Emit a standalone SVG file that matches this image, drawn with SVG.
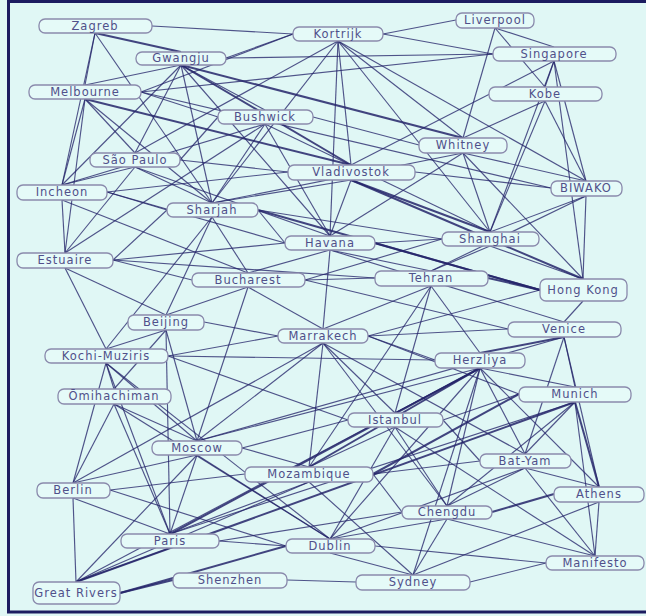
<svg xmlns="http://www.w3.org/2000/svg" width="646" height="616" viewBox="0 0 646 616">
<style>
.e line{stroke:#25256a;stroke-opacity:.78;stroke-width:1.15;}
.e line.t{stroke-width:2;stroke-opacity:.85;}
.n rect{fill:#e5faf8;stroke:#8a8aac;stroke-width:1.3;}
.n text{font-family:"DejaVu Sans",sans-serif;font-size:11.5px;letter-spacing:1px;fill:#50508a;text-anchor:middle;}
</style>
<rect x="0" y="0" width="646" height="616" fill="#e0f7f5"/>
<g class="e" id="connectors">
<line x1="152" y1="26" x2="293" y2="34"/>
<line class="t" x1="95" y1="33" x2="181" y2="52"/>
<line x1="95" y1="33" x2="85" y2="85"/>
<line x1="95" y1="33" x2="62" y2="185"/>
<line x1="95" y1="33" x2="212" y2="203"/>
<line x1="226" y1="58" x2="293" y2="34"/>
<line x1="226" y1="58" x2="493" y2="54"/>
<line x1="181" y1="65" x2="85" y2="85"/>
<line x1="181" y1="65" x2="135" y2="153"/>
<line x1="181" y1="65" x2="62" y2="185"/>
<line x1="181" y1="65" x2="212" y2="203"/>
<line class="t" x1="181" y1="65" x2="351" y2="165"/>
<line class="t" x1="181" y1="65" x2="463" y2="138"/>
<line x1="181" y1="65" x2="265" y2="110"/>
<line x1="181" y1="65" x2="330" y2="236"/>
<line x1="383" y1="34" x2="456" y2="20"/>
<line x1="383" y1="34" x2="493" y2="54"/>
<line x1="338" y1="41" x2="463" y2="138"/>
<line x1="338" y1="41" x2="586" y2="181"/>
<line x1="338" y1="41" x2="351" y2="165"/>
<line x1="338" y1="41" x2="330" y2="236"/>
<line x1="338" y1="41" x2="135" y2="153"/>
<line x1="338" y1="41" x2="212" y2="203"/>
<line x1="338" y1="41" x2="490" y2="232"/>
<line x1="293" y1="34" x2="141" y2="92"/>
<line x1="495" y1="28" x2="463" y2="138"/>
<line x1="495" y1="28" x2="554" y2="47"/>
<line x1="495" y1="28" x2="545" y2="87"/>
<line x1="554" y1="61" x2="545" y2="87"/>
<line x1="554" y1="61" x2="586" y2="181"/>
<line x1="554" y1="61" x2="583" y2="279"/>
<line x1="493" y1="54" x2="141" y2="92"/>
<line x1="554" y1="61" x2="351" y2="165"/>
<line x1="554" y1="61" x2="490" y2="232"/>
<line x1="545" y1="101" x2="463" y2="138"/>
<line x1="545" y1="101" x2="586" y2="181"/>
<line x1="545" y1="101" x2="490" y2="232"/>
<line class="t" x1="85" y1="99" x2="351" y2="165"/>
<line x1="141" y1="92" x2="218" y2="117"/>
<line x1="85" y1="99" x2="135" y2="153"/>
<line x1="85" y1="99" x2="62" y2="185"/>
<line x1="85" y1="99" x2="212" y2="203"/>
<line x1="141" y1="92" x2="551" y2="188"/>
<line x1="85" y1="99" x2="65" y2="253"/>
<line x1="218" y1="117" x2="180" y2="160"/>
<line x1="265" y1="124" x2="212" y2="203"/>
<line x1="265" y1="124" x2="330" y2="236"/>
<line x1="313" y1="117" x2="419" y2="145"/>
<line x1="265" y1="124" x2="490" y2="232"/>
<line x1="265" y1="124" x2="62" y2="185"/>
<line x1="265" y1="124" x2="65" y2="253"/>
<line x1="463" y1="153" x2="586" y2="181"/>
<line x1="463" y1="153" x2="490" y2="232"/>
<line x1="463" y1="153" x2="583" y2="279"/>
<line x1="463" y1="153" x2="212" y2="203"/>
<line x1="463" y1="153" x2="330" y2="236"/>
<line x1="180" y1="160" x2="288" y2="172"/>
<line x1="135" y1="167" x2="62" y2="185"/>
<line x1="135" y1="167" x2="212" y2="203"/>
<line x1="135" y1="167" x2="330" y2="236"/>
<line x1="135" y1="167" x2="65" y2="253"/>
<line x1="415" y1="172" x2="551" y2="188"/>
<line x1="351" y1="180" x2="330" y2="236"/>
<line class="t" x1="351" y1="180" x2="490" y2="232"/>
<line class="t" x1="351" y1="180" x2="583" y2="279"/>
<line x1="351" y1="180" x2="212" y2="203"/>
<line x1="288" y1="172" x2="107" y2="192"/>
<line x1="586" y1="196" x2="490" y2="232"/>
<line x1="586" y1="196" x2="583" y2="279"/>
<line x1="586" y1="196" x2="431" y2="271"/>
<line x1="107" y1="192" x2="167" y2="210"/>
<line x1="62" y1="200" x2="65" y2="253"/>
<line x1="107" y1="192" x2="285" y2="243"/>
<line x1="62" y1="200" x2="248" y2="273"/>
<line x1="258" y1="210" x2="285" y2="243"/>
<line x1="212" y1="217" x2="248" y2="273"/>
<line x1="167" y1="210" x2="113" y2="260"/>
<line class="t" x1="258" y1="210" x2="540" y2="290"/>
<line x1="212" y1="217" x2="166" y2="315"/>
<line x1="212" y1="217" x2="106" y2="349"/>
<line x1="258" y1="210" x2="442" y2="239"/>
<line class="t" x1="375" y1="243" x2="540" y2="290"/>
<line x1="375" y1="243" x2="442" y2="239"/>
<line x1="285" y1="243" x2="113" y2="260"/>
<line x1="330" y1="250" x2="248" y2="273"/>
<line x1="330" y1="250" x2="323" y2="329"/>
<line x1="330" y1="250" x2="431" y2="271"/>
<line x1="330" y1="250" x2="564" y2="322"/>
<line x1="490" y1="246" x2="583" y2="279"/>
<line x1="490" y1="246" x2="431" y2="271"/>
<line x1="442" y1="239" x2="305" y2="280"/>
<line x1="113" y1="260" x2="192" y2="280"/>
<line x1="65" y1="268" x2="166" y2="315"/>
<line x1="65" y1="268" x2="106" y2="349"/>
<line x1="113" y1="260" x2="375" y2="278"/>
<line x1="305" y1="280" x2="375" y2="278"/>
<line x1="248" y1="287" x2="323" y2="329"/>
<line x1="248" y1="287" x2="197" y2="441"/>
<line x1="248" y1="287" x2="166" y2="315"/>
<line x1="305" y1="280" x2="508" y2="329"/>
<line class="t" x1="488" y1="278" x2="540" y2="290"/>
<line x1="431" y1="286" x2="480" y2="353"/>
<line x1="431" y1="286" x2="323" y2="329"/>
<line x1="431" y1="286" x2="395" y2="413"/>
<line x1="431" y1="286" x2="309" y2="467"/>
<line x1="583" y1="301" x2="564" y2="322"/>
<line x1="540" y1="290" x2="368" y2="336"/>
<line x1="204" y1="322" x2="278" y2="336"/>
<line x1="166" y1="330" x2="106" y2="349"/>
<line x1="166" y1="330" x2="114" y2="389"/>
<line x1="166" y1="330" x2="197" y2="441"/>
<line x1="166" y1="330" x2="170" y2="534"/>
<line class="t" x1="564" y1="337" x2="480" y2="353"/>
<line x1="564" y1="337" x2="575" y2="387"/>
<line x1="564" y1="337" x2="599" y2="487"/>
<line x1="508" y1="329" x2="368" y2="336"/>
<line x1="564" y1="337" x2="525" y2="454"/>
<line x1="564" y1="337" x2="197" y2="441"/>
<line x1="278" y1="336" x2="168" y2="356"/>
<line x1="368" y1="336" x2="435" y2="360"/>
<line x1="323" y1="343" x2="395" y2="413"/>
<line x1="323" y1="343" x2="197" y2="441"/>
<line x1="323" y1="343" x2="309" y2="467"/>
<line x1="323" y1="343" x2="525" y2="454"/>
<line x1="323" y1="343" x2="447" y2="506"/>
<line x1="323" y1="343" x2="73" y2="483"/>
<line x1="368" y1="336" x2="519" y2="394"/>
<line x1="106" y1="363" x2="114" y2="389"/>
<line x1="168" y1="356" x2="435" y2="360"/>
<line x1="106" y1="363" x2="73" y2="483"/>
<line x1="106" y1="363" x2="197" y2="441"/>
<line x1="106" y1="363" x2="170" y2="534"/>
<line x1="168" y1="356" x2="348" y2="420"/>
<line x1="106" y1="363" x2="330" y2="539"/>
<line x1="480" y1="368" x2="575" y2="387"/>
<line x1="480" y1="368" x2="395" y2="413"/>
<line x1="480" y1="368" x2="197" y2="441"/>
<line class="t" x1="480" y1="368" x2="309" y2="467"/>
<line x1="480" y1="368" x2="525" y2="454"/>
<line x1="480" y1="368" x2="447" y2="506"/>
<line x1="480" y1="368" x2="599" y2="487"/>
<line x1="480" y1="368" x2="330" y2="539"/>
<line x1="480" y1="368" x2="413" y2="575"/>
<line x1="114" y1="404" x2="197" y2="441"/>
<line x1="114" y1="404" x2="73" y2="483"/>
<line x1="114" y1="404" x2="170" y2="534"/>
<line x1="114" y1="404" x2="330" y2="539"/>
<line class="t" x1="575" y1="402" x2="599" y2="487"/>
<line x1="575" y1="402" x2="525" y2="454"/>
<line x1="575" y1="402" x2="595" y2="556"/>
<line class="t" x1="519" y1="394" x2="373" y2="474"/>
<line x1="519" y1="394" x2="443" y2="420"/>
<line x1="575" y1="402" x2="447" y2="506"/>
<line x1="575" y1="402" x2="170" y2="534"/>
<line x1="348" y1="420" x2="242" y2="448"/>
<line x1="395" y1="427" x2="309" y2="467"/>
<line x1="443" y1="420" x2="480" y2="461"/>
<line x1="395" y1="427" x2="447" y2="506"/>
<line x1="395" y1="427" x2="595" y2="556"/>
<line x1="395" y1="427" x2="330" y2="539"/>
<line x1="197" y1="455" x2="73" y2="483"/>
<line x1="242" y1="448" x2="309" y2="467"/>
<line x1="197" y1="455" x2="170" y2="534"/>
<line x1="197" y1="455" x2="330" y2="539"/>
<line x1="197" y1="455" x2="76" y2="582"/>
<line x1="245" y1="474" x2="110" y2="490"/>
<line x1="373" y1="474" x2="402" y2="512"/>
<line x1="373" y1="474" x2="480" y2="461"/>
<line x1="309" y1="482" x2="170" y2="534"/>
<line x1="309" y1="482" x2="76" y2="582"/>
<line x1="309" y1="482" x2="413" y2="575"/>
<line x1="525" y1="468" x2="599" y2="487"/>
<line x1="525" y1="468" x2="447" y2="506"/>
<line x1="525" y1="468" x2="595" y2="556"/>
<line x1="525" y1="468" x2="330" y2="539"/>
<line class="t" x1="76" y1="582" x2="575" y2="402"/>
<line x1="73" y1="498" x2="170" y2="534"/>
<line x1="73" y1="498" x2="76" y2="582"/>
<line x1="110" y1="490" x2="286" y2="546"/>
<line class="t" x1="554" y1="494" x2="492" y2="512"/>
<line x1="599" y1="502" x2="595" y2="556"/>
<line x1="599" y1="502" x2="413" y2="575"/>
<line x1="447" y1="519" x2="330" y2="539"/>
<line x1="447" y1="519" x2="413" y2="575"/>
<line x1="447" y1="519" x2="595" y2="556"/>
<line x1="402" y1="512" x2="219" y2="541"/>
<line x1="219" y1="541" x2="286" y2="546"/>
<line x1="170" y1="548" x2="76" y2="582"/>
<line class="t" x1="170" y1="534" x2="480" y2="368"/>
<line class="t" x1="286" y1="546" x2="120" y2="593"/>
<line x1="330" y1="553" x2="413" y2="575"/>
<line x1="375" y1="546" x2="546" y2="563"/>
<line class="t" x1="120" y1="593" x2="173" y2="580"/>
<line x1="76" y1="582" x2="480" y2="368"/>
<line x1="287" y1="580" x2="356" y2="582"/>
<line x1="470" y1="582" x2="546" y2="563"/>
</g>
<g class="n" id="n-zagreb"><rect x="39" y="19" width="113" height="14" rx="6"/><text x="95" y="30">Zagreb</text></g>
<g class="n" id="n-kortrijk"><rect x="293" y="27" width="90" height="14" rx="6"/><text x="338" y="38">Kortrijk</text></g>
<g class="n" id="n-liverpool"><rect x="456" y="13" width="78" height="15" rx="6"/><text x="495" y="24">Liverpool</text></g>
<g class="n" id="n-gwangju"><rect x="136" y="52" width="90" height="13" rx="6"/><text x="181" y="62">Gwangju</text></g>
<g class="n" id="n-singapore"><rect x="493" y="47" width="123" height="14" rx="6"/><text x="554" y="58">Singapore</text></g>
<g class="n" id="n-melbourne"><rect x="29" y="85" width="112" height="14" rx="6"/><text x="85" y="96">Melbourne</text></g>
<g class="n" id="n-kobe"><rect x="489" y="87" width="113" height="14" rx="6"/><text x="545" y="98">Kobe</text></g>
<g class="n" id="n-bushwick"><rect x="218" y="110" width="95" height="14" rx="6"/><text x="265" y="121">Bushwick</text></g>
<g class="n" id="n-whitney"><rect x="419" y="138" width="88" height="15" rx="6"/><text x="463" y="149">Whitney</text></g>
<g class="n" id="n-saopaulo"><rect x="90" y="153" width="90" height="14" rx="6"/><text x="135" y="164">São Paulo</text></g>
<g class="n" id="n-vladivostok"><rect x="288" y="165" width="127" height="15" rx="6"/><text x="351" y="176">Vladivostok</text></g>
<g class="n" id="n-biwako"><rect x="551" y="181" width="71" height="15" rx="6"/><text x="586" y="192">BIWAKO</text></g>
<g class="n" id="n-incheon"><rect x="17" y="185" width="90" height="15" rx="6"/><text x="62" y="196">Incheon</text></g>
<g class="n" id="n-sharjah"><rect x="167" y="203" width="91" height="14" rx="6"/><text x="212" y="214">Sharjah</text></g>
<g class="n" id="n-havana"><rect x="285" y="236" width="90" height="14" rx="6"/><text x="330" y="247">Havana</text></g>
<g class="n" id="n-shanghai"><rect x="442" y="232" width="97" height="14" rx="6"/><text x="490" y="243">Shanghai</text></g>
<g class="n" id="n-estuaire"><rect x="17" y="253" width="96" height="15" rx="6"/><text x="65" y="264">Estuaire</text></g>
<g class="n" id="n-bucharest"><rect x="192" y="273" width="113" height="14" rx="6"/><text x="248" y="284">Bucharest</text></g>
<g class="n" id="n-tehran"><rect x="375" y="271" width="113" height="15" rx="6"/><text x="431" y="282">Tehran</text></g>
<g class="n" id="n-hongkong"><rect x="540" y="279" width="87" height="22" rx="6"/><text x="583" y="294">Hong Kong</text></g>
<g class="n" id="n-beijing"><rect x="128" y="315" width="76" height="15" rx="6"/><text x="166" y="326">Beijing</text></g>
<g class="n" id="n-venice"><rect x="508" y="322" width="113" height="15" rx="6"/><text x="564" y="333">Venice</text></g>
<g class="n" id="n-marrakech"><rect x="278" y="329" width="90" height="14" rx="6"/><text x="323" y="340">Marrakech</text></g>
<g class="n" id="n-kochi"><rect x="45" y="349" width="123" height="14" rx="6"/><text x="106" y="360">Kochi-Muziris</text></g>
<g class="n" id="n-herzliya"><rect x="435" y="353" width="90" height="15" rx="6"/><text x="480" y="364">Herzliya</text></g>
<g class="n" id="n-omihachiman"><rect x="58" y="389" width="113" height="15" rx="6"/><text x="114" y="400">Ōmihachiman</text></g>
<g class="n" id="n-munich"><rect x="519" y="387" width="112" height="15" rx="6"/><text x="575" y="398">Munich</text></g>
<g class="n" id="n-istanbul"><rect x="348" y="413" width="95" height="14" rx="6"/><text x="395" y="424">Istanbul</text></g>
<g class="n" id="n-moscow"><rect x="152" y="441" width="90" height="14" rx="6"/><text x="197" y="452">Moscow</text></g>
<g class="n" id="n-mozambique"><rect x="245" y="467" width="128" height="15" rx="6"/><text x="309" y="478">Mozambique</text></g>
<g class="n" id="n-batyam"><rect x="480" y="454" width="91" height="14" rx="6"/><text x="525" y="465">Bat-Yam</text></g>
<g class="n" id="n-berlin"><rect x="37" y="483" width="73" height="15" rx="6"/><text x="73" y="494">Berlin</text></g>
<g class="n" id="n-athens"><rect x="554" y="487" width="90" height="15" rx="6"/><text x="599" y="498">Athens</text></g>
<g class="n" id="n-chengdu"><rect x="402" y="506" width="90" height="13" rx="6"/><text x="447" y="516">Chengdu</text></g>
<g class="n" id="n-paris"><rect x="121" y="534" width="98" height="14" rx="6"/><text x="170" y="545">Paris</text></g>
<g class="n" id="n-dublin"><rect x="286" y="539" width="89" height="14" rx="6"/><text x="330" y="550">Dublin</text></g>
<g class="n" id="n-greatrivers"><rect x="33" y="582" width="87" height="22" rx="6"/><text x="76" y="597">Great Rivers</text></g>
<g class="n" id="n-shenzhen"><rect x="173" y="573" width="114" height="15" rx="6"/><text x="230" y="584">Shenzhen</text></g>
<g class="n" id="n-sydney"><rect x="356" y="575" width="114" height="15" rx="6"/><text x="413" y="586">Sydney</text></g>
<g class="n" id="n-manifesto"><rect x="546" y="556" width="98" height="14" rx="6"/><text x="595" y="567">Manifesto</text></g>
<path d="M660 1.5H8.5V612H660" fill="none" stroke="#1c1c60" stroke-width="3"/>
</svg>
